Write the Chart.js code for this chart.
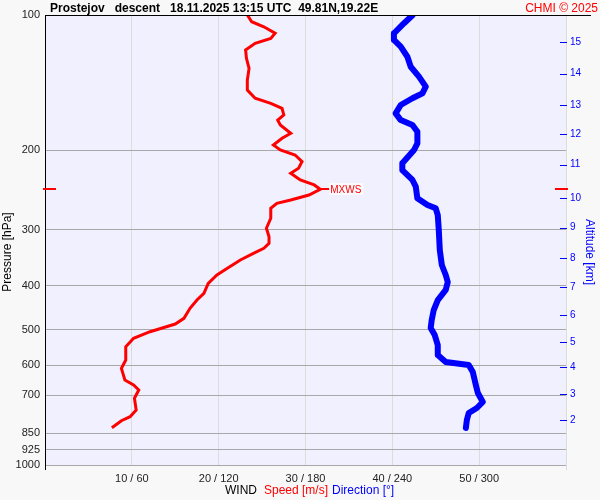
<!DOCTYPE html>
<html>
<head>
<meta charset="utf-8">
<script src="https://cdn.jsdelivr.net/npm/chart.js@4"></script>
<style>
  html, body { margin: 0; padding: 0; background: #f8f8f8; }
  #wrap { width: 600px; height: 500px; }
</style>
</head>
<body>
<div id="wrap"><canvas id="sounding" width="600" height="500"></canvas></div>
<script>
const speedPressure = [100, 103.5, 106.2, 109.8, 112.7, 115.6, 119.6, 124.8, 131.4, 139.5, 146.8, 153.1, 157.1, 161.2, 166.8, 171.2, 175.6, 183.2, 187.9, 194.5, 199.5, 204.7, 211.8, 219.1, 224.8, 232.6, 238.6, 243.9, 251.2, 257.7, 262.1, 268.9, 283.0, 297.8, 311.0, 321.7, 330.0, 338.5, 350.3, 365.5, 378.3, 394.7, 415.4, 429.9, 448.6, 472.1, 486.1, 495.4, 505.6, 523.0, 546.0, 584.4, 609.7, 647.4, 664.2, 681.3, 710.9, 754.7, 781.0, 797.2, 826.3];
const speed = [23.3, 23.8, 25.2, 26.5, 26.0, 24.2, 23.1, 23.2, 23.5, 23.3, 23.3, 24.2, 26.0, 27.3, 27.5, 26.8, 27.1, 28.3, 27.3, 26.3, 27.1, 28.8, 29.6, 29.2, 28.3, 29.4, 31.0, 31.7, 30.4, 28.3, 26.7, 26.0, 26.0, 25.5, 25.8, 25.8, 25.2, 24.0, 22.5, 21.0, 19.8, 18.8, 18.3, 17.5, 16.7, 16.0, 15.0, 13.6, 12.1, 10.2, 9.3, 9.3, 8.8, 9.2, 10.2, 10.8, 10.3, 10.5, 9.8, 8.8, 7.7];

const dirPressure = [100, 104.3, 109.8, 113.6, 117.6, 123.8, 130.3, 137.1, 144.3, 149.3, 153.1, 158.5, 165.4, 171.2, 175.6, 181.7, 192.8, 199.5, 213.6, 221.1, 232.6, 240.7, 255.5, 264.4, 268.9, 278.3, 300.5, 332.9, 359.4, 378.3, 392.1, 408.4, 429.9, 452.5, 476.3, 496.2, 514.3, 541.2, 569.6, 590.4, 599.5, 621.4, 664.2, 691.8, 724.4, 747.0, 766.3, 794.3, 827.6];
const direction = [254.1, 248.1, 241.1, 241.1, 245.8, 250.4, 252.7, 258.4, 263.1, 260.8, 253.9, 245.8, 242.3, 245.8, 253.9, 257.3, 257.3, 255.0, 246.9, 246.9, 253.9, 256.2, 257.3, 264.3, 270.0, 271.4, 272.1, 272.8, 274.2, 276.9, 278.3, 276.9, 271.4, 268.6, 267.2, 266.5, 269.3, 271.4, 271.4, 276.9, 292.8, 295.6, 297.7, 299.1, 302.5, 298.4, 292.8, 291.5, 290.8];

const pressureTicks = [100, 200, 300, 400, 500, 600, 700, 850, 925, 1000];
const speedTicks = [0, 10, 20, 30, 40, 50, 60];
const dirTicks = [0, 60, 120, 180, 240, 300, 360];
const altitudeKm = [2, 3, 4, 5, 6, 7, 8, 9, 10, 11, 12, 13, 14, 15];
const altitudePressure = [794, 695, 606, 533, 464, 402, 347, 297, 255, 215, 184, 158.5, 135, 115];

const FONT = '"Liberation Sans", Arial, sans-serif';
const RED = '#ff0000';
const BLUE = '#0000ff';

// ====================== extra drawing ======================
const decorPlugin = {
  id: 'decor',
  beforeDraw(chart) {
    const { ctx, chartArea: a } = chart;
    ctx.save();
    ctx.fillStyle = '#f8f8f8';
    ctx.fillRect(0, 0, chart.width, chart.height);
    ctx.fillStyle = '#f0f0ff';
    ctx.fillRect(a.left, a.top, a.right - a.left, a.bottom - a.top);
    ctx.restore();
  },
  afterDraw(chart) {
    const { ctx, chartArea: a, scales } = chart;
    ctx.save();

    // frame bits
    ctx.strokeStyle = '#000';
    ctx.lineWidth = 1;
    ctx.beginPath();
    ctx.moveTo(a.left, a.top + 0.5);
    ctx.lineTo(591, a.top + 0.5);
    ctx.moveTo(a.left + 0.5, a.top);
    ctx.lineTo(a.left + 0.5, a.bottom + 5);
    ctx.stroke();
    ctx.strokeStyle = '#dcdcdc';
    ctx.beginPath();
    ctx.moveTo(a.right + 0.5, a.bottom);
    ctx.lineTo(a.right + 0.5, a.bottom + 5);
    ctx.stroke();

    // altitude tick dashes (inside the plot)
    const y2 = scales.y2;
    ctx.strokeStyle = BLUE;
    ctx.lineWidth = 1;
    ctx.beginPath();
    altitudePressure.forEach(p => {
      const y = Math.round(y2.getPixelForValue(p)) + 0.5;
      ctx.moveTo(a.right - 6, y);
      ctx.lineTo(a.right + 1, y);
    });
    ctx.stroke();

    // max wind marker
    let mi = 0;
    speed.forEach((v, i) => { if (v > speed[mi]) mi = i; });
    const mx = scales.x.getPixelForValue(speed[mi]);
    const my = Math.round(scales.y.getPixelForValue(speedPressure[mi]));
    ctx.strokeStyle = RED;
    ctx.lineWidth = 2;
    ctx.beginPath();
    ctx.moveTo(a.left - 2, my); ctx.lineTo(a.left + 11, my);
    ctx.moveTo(a.right - 11, my); ctx.lineTo(a.right + 2, my);
    ctx.moveTo(mx, my); ctx.lineTo(mx + 9, my);
    ctx.stroke();
    ctx.font = '10px ' + FONT;
    ctx.textBaseline = 'middle';
    const mw = ctx.measureText('MXWS').width;
    ctx.fillStyle = '#fbfbff';
    ctx.fillRect(mx + 9, my - 6, mw + 3, 12);
    ctx.fillStyle = RED;
    ctx.fillText('MXWS', mx + 10, my + 1);

    // title
    ctx.textBaseline = 'alphabetic';
    ctx.font = 'bold 12px ' + FONT;
    ctx.fillStyle = '#000';
    ctx.textAlign = 'left';
    ctx.fillText('Prostejov   descent   18.11.2025 13:15 UTC  49.81N,19.22E', 50, 12);
    ctx.font = '12px ' + FONT;
    ctx.fillStyle = RED;
    ctx.textAlign = 'right';
    ctx.fillText('CHMI © 2025', 598, 12);

    // bottom legend
    ctx.textAlign = 'left';
    ctx.textBaseline = 'middle';
    ctx.font = '12px ' + FONT;
    ctx.fillStyle = '#000';
    ctx.fillText('WIND', 225, 491);
    ctx.fillStyle = RED;
    ctx.fillText('Speed [m/s]', 264, 491);
    ctx.fillStyle = BLUE;
    ctx.fillText('Direction [°]', 332, 491);

    // axis titles
    ctx.textAlign = 'center';
    ctx.save();
    ctx.translate(8, 252);
    ctx.rotate(-Math.PI / 2);
    ctx.fillStyle = '#000';
    ctx.fillText('Pressure [hPa]', 0, 0);
    ctx.restore();
    ctx.save();
    ctx.translate(589, 252);
    ctx.rotate(Math.PI / 2);
    ctx.fillStyle = BLUE;
    ctx.fillText('Altitude [km]', 0, 0);
    ctx.restore();

    ctx.restore();
  }
};

// ====================== chart ======================
function renderSounding() {
  const canvas = document.getElementById('sounding');
  if (!canvas) return;
  const ctx = canvas.getContext('2d');

  new Chart(ctx, {
    type: 'scatter',
    data: {
      datasets: [
        {
          label: 'Speed',
          data: speed.map((v, i) => ({ x: v, y: speedPressure[i] })),
          showLine: true,
          borderColor: RED,
          borderWidth: 3,
          pointRadius: 0,
          xAxisID: 'x',
          yAxisID: 'y'
        },
        {
          label: 'Direction',
          data: direction.map((v, i) => ({ x: v, y: dirPressure[i] })),
          showLine: true,
          borderColor: BLUE,
          borderWidth: 6,
          borderCapStyle: 'round',
          borderJoinStyle: 'round',
          pointRadius: 0,
          xAxisID: 'x2',
          yAxisID: 'y'
        }
      ]
    },
    options: {
      responsive: false,
      animation: false,
      events: [],
      layout: { padding: { top: 15, left: 0, right: 0, bottom: 0 } },
      plugins: { legend: { display: false }, tooltip: { enabled: false } },
      scales: {
        x: {
          type: 'linear',
          position: 'bottom',
          min: 0,
          max: 60,
          afterBuildTicks: s => { s.ticks = speedTicks.map(v => ({ value: v })); },
          afterFit: s => { s.height = 35; },
          grid: { color: '#dcdcdc', drawTicks: false },
          border: { display: false },
          ticks: {
            padding: 7,
            color: '#222',
            font: { family: FONT, size: 11 },
            maxRotation: 0,
            callback: (v, i) => (i === 0 || i === speedTicks.length - 1) ? '' : `${speedTicks[i]} / ${dirTicks[i]}`
          }
        },
        x2: { type: 'linear', display: false, min: 0, max: 360 },
        y: {
          type: 'logarithmic',
          position: 'left',
          reverse: true,
          min: 100,
          max: 1000,
          afterBuildTicks: s => { s.ticks = pressureTicks.map(v => ({ value: v })); },
          afterFit: s => { s.width = 45; },
          grid: { color: '#a8a8a8', drawTicks: false },
          border: { display: true, color: '#000' },
          ticks: {
            padding: 5,
            color: '#222',
            font: { family: FONT, size: 11 },
            callback: (v, i) => String(pressureTicks[i])
          }
        },
        y2: {
          type: 'logarithmic',
          position: 'right',
          reverse: true,
          min: 100,
          max: 1000,
          afterBuildTicks: s => { s.ticks = altitudePressure.map(v => ({ value: v })); },
          afterFit: s => { s.width = 34; },
          grid: { drawOnChartArea: false, drawTicks: false },
          border: { display: false },
          ticks: {
            padding: 4,
            color: BLUE,
            font: { family: FONT, size: 10 },
            callback: (v, i) => String(altitudeKm[i])
          }
        }
      }
    },
    plugins: [decorPlugin]
  });
}

document.addEventListener('DOMContentLoaded', renderSounding);
</script>
</body>
</html>
